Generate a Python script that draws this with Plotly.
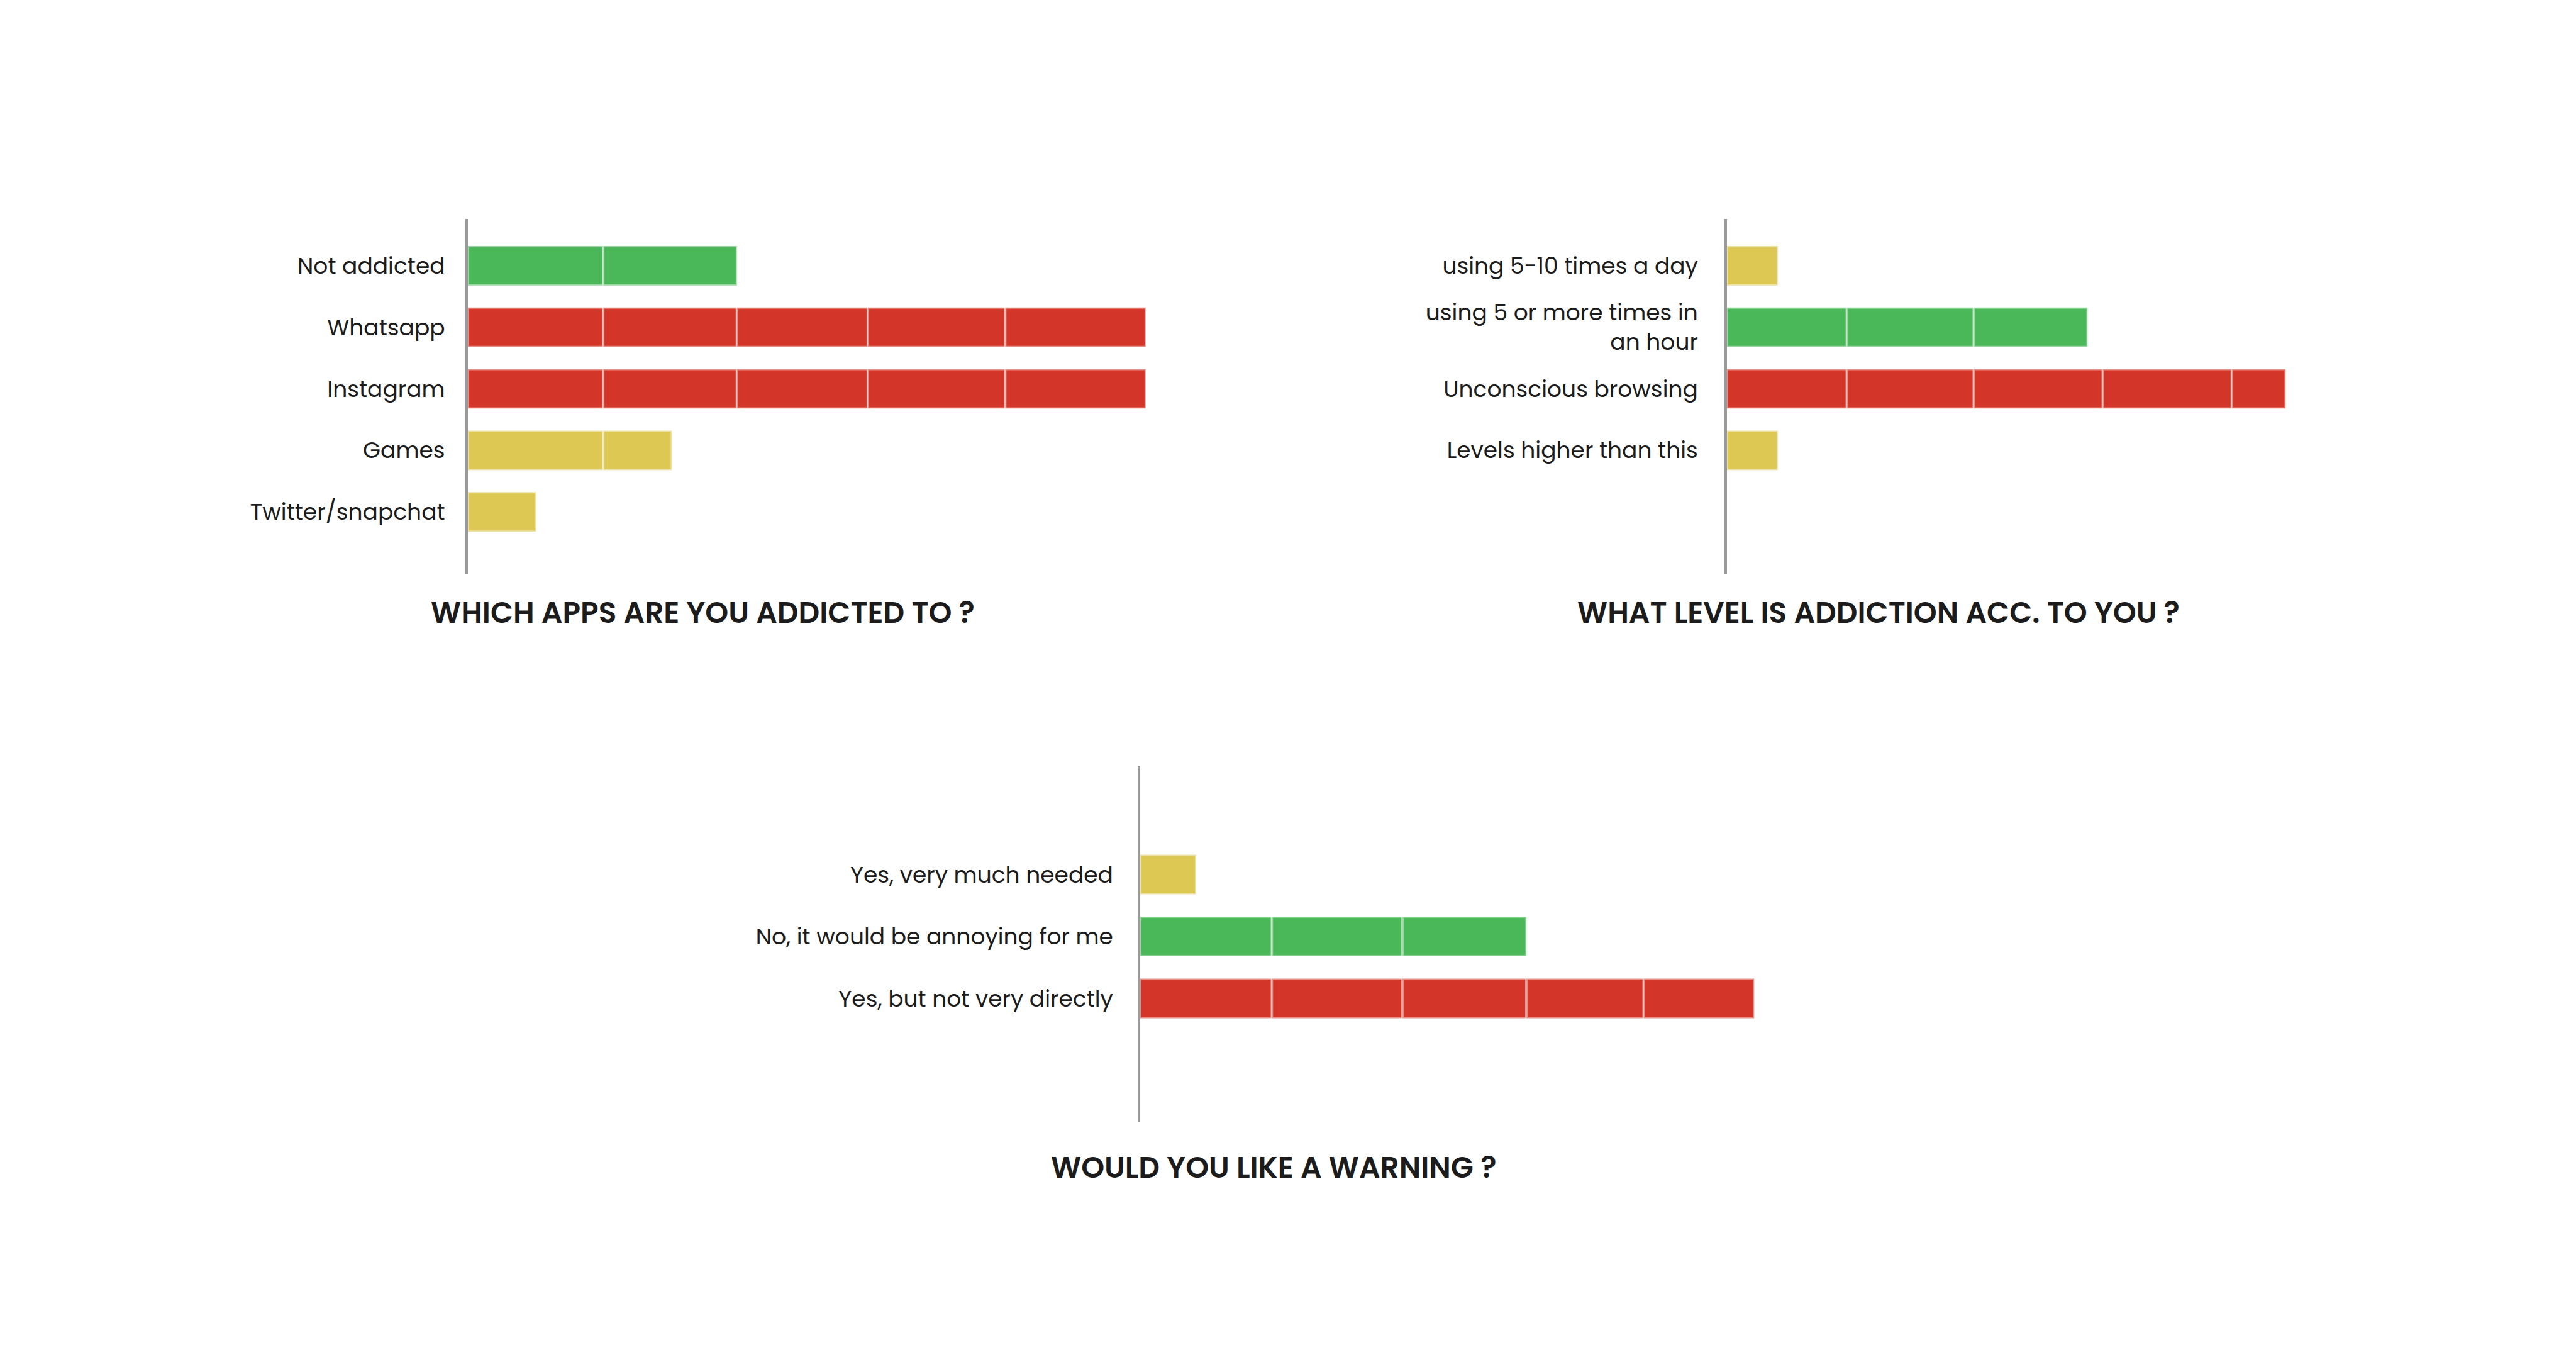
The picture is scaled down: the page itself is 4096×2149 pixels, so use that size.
import plotly.graph_objects as go

# ---------------- data ----------------
apps_categories = ["Not addicted", "Whatsapp", "Instagram", "Games", "Twitter/snapchat"]
apps_segments = [
    [20.0, 19.7],
    [20.0, 19.7, 19.3, 20.3, 20.7],
    [20.0, 19.7, 19.3, 20.3, 20.7],
    [20.0, 10.1],
    [10.1],
]
apps_colors = ["green", "red", "red", "yellow", "yellow"]

level_categories = ["using 5-10 times a day", "using 5 or more times in<br>an hour",
                    "Unconscious browsing", "Levels higher than this"]
level_segments = [
    [5.0],
    [11.8, 12.5, 11.2],
    [11.8, 12.5, 12.7, 12.7, 5.3],
    [5.0],
]
level_colors = ["yellow", "green", "red", "yellow"]

warn_categories = ["Yes, very much needed", "No, it would be annoying for me", "Yes, but not very directly"]
warn_segments = [
    [5.0],
    [11.8, 11.7, 11.1],
    [11.8, 11.7, 11.1, 10.5, 9.9],
]
warn_colors = ["yellow", "green", "red"]

titles = ["WHICH APPS ARE YOU ADDICTED TO ?", "WHAT LEVEL IS ADDICTION ACC. TO YOU ?", "WOULD YOU LIKE A WARNING ?"]

# ---------------- styling ----------------
PALETTE = {"green": "#4AB758", "red": "#D33628", "yellow": "#DCC853"}
FONT = "Poppins, Open Sans, Lato, sans-serif"
TEXT = "#1c1c1c"
W, H = 4096, 2149

fig = go.Figure()

def add_chart(cats, segs, cols, xa, ya):
    for cat, seg, col in zip(cats, segs, cols):
        base = 0.0
        bases, vals = [], []
        for v in seg:
            bases.append(base)
            vals.append(v)
            base += v
        fig.add_trace(go.Bar(
            x=vals, base=bases, y=[cat] * len(vals), orientation="h",
            marker=dict(color=PALETTE[col], line=dict(color="rgba(255,255,255,0.45)", width=3.6)),
            width=0.64, xaxis=xa, yaxis=ya, showlegend=False, hoverinfo="skip",
        ))

add_chart(apps_categories, apps_segments, apps_colors, "x", "y")
add_chart(level_categories, level_segments, level_colors, "x2", "y2")
add_chart(warn_categories, warn_segments, warn_colors, "x3", "y3")

def px_x(p):
    return p / W

def yaxis_common(cats, rng, xa, domain, standoff):
    return dict(
        type="category", categoryorder="array", categoryarray=cats,
        range=rng, anchor=xa, domain=domain,
        showline=True, linecolor="#9a9a9a", linewidth=3.8,
        showgrid=False, zeroline=False, ticks="",
        ticklabelstandoff=standoff,
        tickfont=dict(family=FONT, size=36, color=TEXT),
    )

def xaxis_common(x0px, pxunit, rmax, ya):
    return dict(
        domain=[px_x(x0px), px_x(x0px + pxunit * rmax)], range=[0, rmax], anchor=ya,
        visible=False, showgrid=False, zeroline=False, fixedrange=True,
    )

dom_top12 = [1 - 911.5 / H, 1 - 348.0 / H]
dom_3 = [1 - 1784.0 / H, 1 - 1216.6 / H]

fig.update_layout(
    width=W, height=H, margin=dict(l=0, r=0, t=0, b=0),
    paper_bgcolor="white", plot_bgcolor="rgba(0,0,0,0)",
    barmode="overlay", showlegend=False,
    font=dict(family=FONT, color=TEXT),
    xaxis=xaxis_common(743.7, 10.78, 102, "y"),
    yaxis=yaxis_common(apps_categories, [5.0, -0.76], "x", dom_top12, 25),
    xaxis2=xaxis_common(2746.0, 16.15, 60, "y2"),
    yaxis2=yaxis_common(level_categories, [5.0, -0.76], "x2", dom_top12, 35),
    xaxis3=xaxis_common(1813.0, 17.75, 60, "y3"),
    yaxis3=yaxis_common(warn_categories, [4.0, -1.76], "x3", dom_3, 32),
)

title_pos = [(1117 / W, 1 - 973.5 / H), (2987 / W, 1 - 973.5 / H), (2024.5 / W, 1 - 1855.5 / H)]
for t, (xp, yp) in zip(titles, title_pos):
    fig.add_annotation(
        text=t, x=xp, y=yp, xref="paper", yref="paper",
        xanchor="center", yanchor="middle", showarrow=False,
        font=dict(family=FONT, size=47, color=TEXT, weight=600),
    )

fig.write_html("out.html")
